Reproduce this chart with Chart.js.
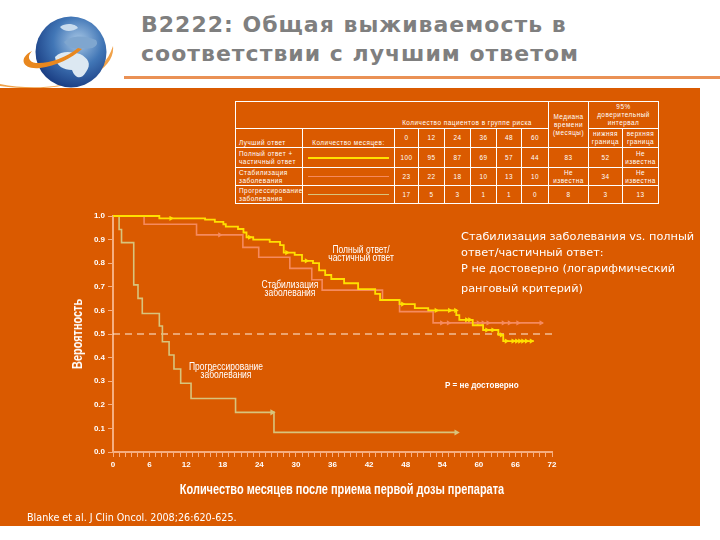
<!DOCTYPE html>
<html lang="ru">
<head>
<meta charset="utf-8">
<title>B2222</title>
<script src="https://cdn.jsdelivr.net/npm/chart.js@4"></script>
<style>
  html, body { margin: 0; background: #fff; }
  #page { position: relative; width: 720px; height: 540px; overflow: hidden; font-family: "DejaVu Sans", sans-serif; }
  #panel { position: absolute; left: 0; top: 88px; width: 700px; height: 438px; background: #da5a00; }
  #rule { position: absolute; left: 124px; top: 76px; width: 596px; height: 3px; background: #ea9155; }
  #globe { position: absolute; left: 0; top: 12px; }
  h1 { position: absolute; left: 141px; top: 10px; margin: 0; font-size: 22px; line-height: 29px; font-weight: bold; color: #7f7f7f; letter-spacing: 1px; white-space: nowrap; }
  canvas { position: absolute; left: 0; top: 0; }
  .t { position: absolute; color: #fff; white-space: nowrap; }
  .n { font-family: "Liberation Sans", sans-serif; line-height: 8px; text-align: center; transform: translate(-50%, 0) scaleX(.85); }
  #note { left: 461px; top: 229px; font-size: 11.3px; line-height: 16px; }
  #cite { left: 27px; top: 512px; font-size: 9.6px; }
  #xtitle { left: 342px; top: 480px; font: bold 15px "Liberation Sans", sans-serif; transform: translateX(-50%) scaleX(.73); }
  #ytitle { left: 77px; top: 334px; font: bold 14px "Liberation Sans", sans-serif; transform: translate(-50%, -50%) rotate(-90deg) scaleX(.78); }
  #pval { left: 445px; top: 380px; font: bold 9px "Liberation Sans", sans-serif; transform: scaleX(.9); transform-origin: left; }
  table { position: absolute; left: 235px; top: 101px; width: 423px; height: 102px; border-collapse: collapse; table-layout: fixed; color: #fff; font: 6.4px/8px "Liberation Sans", sans-serif; letter-spacing: .5px; }
  td { border: 1px solid #fff; text-align: center; padding: 0; vertical-align: middle; overflow: hidden; }
  td.l { text-align: left; padding-left: 3px; }
  td.b { vertical-align: bottom; }
  .s { display: block; margin: 0 5px; }
</style>
</head>
<body>
<div id="page">
  <svg id="globe" width="125" height="80" viewBox="0 0 125 80">
    <defs>
      <radialGradient id="g" cx="60%" cy="35%" r="70%">
        <stop offset="0" stop-color="#a9c8e6"/>
        <stop offset=".5" stop-color="#4176b6"/>
        <stop offset="1" stop-color="#17397f"/>
      </radialGradient>
    </defs>
    <path d="M0 72 C40 80 100 76 113 34 C116 60 70 84 0 74 Z" fill="#f0a24a"/>
    <circle cx="71" cy="40" r="35.5" fill="url(#g)"/>
    <path d="M55 45 C62 38 72 40 80 42 C88 46 92 52 86 60 C80 70 74 64 72 58 C64 58 56 54 55 45 Z" fill="#dce8f2"/>
    <path d="M64 30 C70 24 82 22 96 28 C100 34 92 38 84 36 C76 38 68 36 64 30 Z" fill="#7fa6cf"/>
    <path d="M60 15 C66 10 76 12 78 16 C72 20 64 20 60 15 Z" fill="#c8dbed"/>
    <path d="M32 39 C18 46 22 58 40 56 C56 54 72 46 82 37 L78 36 C66 46 48 52 36 51 C28 50 27 44 32 39 Z" fill="#e8871e"/>
  </svg>
  <h1>В2222: Общая выживаемость в<br>соответствии с лучшим ответом</h1>
  <div id="rule"></div>
  <div id="panel"></div>
  <table>
    <colgroup>
      <col style="width:67px"><col style="width:92px"><col style="width:24px"><col style="width:26px"><col style="width:26px"><col style="width:26px"><col style="width:25px"><col style="width:27px"><col style="width:40px"><col style="width:34px"><col style="width:36px">
    </colgroup>
    <tbody id="tb"></tbody>
  </table>
  <canvas id="chart" width="720" height="540"></canvas>
  <div class="t n" style="left:361px;top:246px;font-size:10px">Полный ответ/<br>частичный ответ</div>
  <div class="t n" style="left:290px;top:281px;font-size:10px">Стабилизация<br>заболевания</div>
  <div class="t n" style="left:226px;top:363px;font-size:10px">Прогрессирование<br>заболевания</div>
  <div class="t" id="pval">P = не достоверно</div>
  <div class="t" id="ytitle">Вероятность</div>
  <div class="t" id="xtitle">Количество месяцев после приема первой дозы препарата</div>
  <div class="t" id="note">Стабилизация заболевания vs. полный<br>ответ/частичный ответ:<br>Р не достоверно (логарифмический<br><span style="position:relative;top:4px">ранговый критерий)</span></div>
  <div class="t" id="cite">Blanke et al. J Clin Oncol. 2008;26:620-625.</div>
</div>
<script>
// risk table
const riskMonths = ['0', '12', '24', '36', '48', '60'];
const riskFull = ['100', '95', '87', '69', '57', '44'];
const riskStable = ['23', '22', '18', '10', '13', '10'];
const riskProg = ['17', '5', '3', '1', '1', '0'];

// survival curves: month of the drop, probability after it
const fullX = [0, 7.6, 15.1, 16.7, 18.1, 18.5, 20.5, 21.4, 21.9, 23, 25.7, 27.4, 28, 29.8, 31, 32.8, 33.8, 34.8, 35.8, 37.9, 40.2, 43, 43.8, 47, 49.5, 51.7, 56.3, 56.8, 59, 60.7, 63.2, 64, 69];
const fullY = [1, 0.99, 0.985, 0.975, 0.965, 0.955, 0.945, 0.93, 0.91, 0.9, 0.89, 0.877, 0.845, 0.835, 0.81, 0.8, 0.77, 0.75, 0.733, 0.715, 0.69, 0.67, 0.644, 0.627, 0.61, 0.6, 0.58, 0.56, 0.537, 0.517, 0.496, 0.47, 0.47];
const stableX = [0, 5.1, 13.7, 21.3, 23.9, 29, 32.6, 34.3, 44.2, 47, 52.5, 70.5];
const stableY = [1, 0.965, 0.92, 0.867, 0.825, 0.778, 0.73, 0.686, 0.644, 0.595, 0.547, 0.547];
const progX = [0, 1, 1.4, 3.4, 4.1, 4.8, 7.6, 8.1, 9.2, 10, 11.1, 12.8, 20.1, 26.4, 56.3];
const progY = [1, 0.943, 0.887, 0.708, 0.651, 0.587, 0.534, 0.467, 0.411, 0.352, 0.291, 0.227, 0.168, 0.083, 0.083];

// censored patients
const fullCensX = [9.5, 22.4, 28.5, 31.7, 47.5, 53, 55.2, 56.2, 58, 58.5, 61.3, 62.3, 63.7, 64.5, 65.6, 66.2, 66.7, 67.2, 67.8, 68.6];
const fullCensY = [0.99, 0.91, 0.845, 0.81, 0.627, 0.6, 0.6, 0.6, 0.56, 0.56, 0.517, 0.517, 0.496, 0.47, 0.47, 0.47, 0.47, 0.47, 0.47, 0.47];
const stableCensX = [17.5, 53.9, 55, 59.9, 60.7, 61.5, 64, 65, 66.4, 70.2];
const stableCensY = [0.92, 0.547, 0.547, 0.547, 0.547, 0.547, 0.547, 0.547, 0.547, 0.547];
const progCensX = [26.1, 56.3];
const progCensY = [0.168, 0.083];

const medianX = [0, 72];
const medianY = [0.5, 0.5];

const YELLOW = '#ffe000', SALMON = '#f58a5e', GREEN = '#d8c47c', AXIS = '#f6ae80', CREAM = '#fdeedd';

function lineSample(color, h) {
  return `<span class="s" style="height:${h}px;background:${color}"></span>`;
}
function riskCells(arr) {
  return arr.map(v => `<td>${v}</td>`).join('');
}
document.getElementById('tb').innerHTML = `
  <tr style="height:27px"><td colspan="8" class="b" style="padding-left:150px;padding-bottom:1px">Количество пациентов в группе риска</td>
    <td rowspan="2">Медиана<br>времени<br>(месяцы)</td>
    <td colspan="2">95%<br>доверительный<br>интервал</td></tr>
  <tr style="height:19px"><td class="l b">Лучший ответ</td><td class="b">Количество месяцев:</td>${riskCells(riskMonths)}<td>нижняя граница</td><td>верхняя граница</td></tr>
  <tr style="height:20px"><td class="l">Полный ответ +<br>частичный ответ</td><td>${lineSample(YELLOW, 2)}</td>${riskCells(riskFull)}<td>83</td><td>52</td><td>Не<br>известна</td></tr>
  <tr style="height:18px"><td class="l">Стабилизация<br>заболевания</td><td>${lineSample(SALMON, 1)}</td>${riskCells(riskStable)}<td>Не<br>известна</td><td>34</td><td>Не<br>известна</td></tr>
  <tr style="height:18px"><td class="l">Прогрессирование<br>заболевания</td><td>${lineSample(GREEN, 1)}</td>${riskCells(riskProg)}<td>8</td><td>3</td><td>13</td></tr>`;

function pts(xs, ys) {
  return xs.map((x, i) => ({ x, y: ys[i] }));
}
function curve(xs, ys, color, w) {
  return { data: pts(xs, ys), showLine: true, clip: false, borderColor: color, borderWidth: w, stepped: 'before', pointRadius: 0, fill: false };
}
function marks(xs, ys, color, r) {
  return { data: pts(xs, ys), showLine: false, pointStyle: 'triangle', rotation: 90, pointRadius: r, backgroundColor: color, borderColor: color, borderWidth: 0 };
}

new Chart(document.getElementById('chart'), {
  type: 'scatter',
  data: {
    // chart.js paints the first dataset on top
    datasets: [
      marks(fullCensX, fullCensY, YELLOW, 3),
      curve(fullX, fullY, YELLOW, 1.8),
      marks(stableCensX, stableCensY, SALMON, 3),
      curve(stableX, stableY, SALMON, 1.6),
      marks(progCensX, progCensY, GREEN, 3.5),
      curve(progX, progY, GREEN, 1.6),
      { data: pts(medianX, medianY), showLine: true, borderColor: CREAM, borderWidth: 1.2, borderDash: [7, 5], pointRadius: 0 }
    ]
  },
  options: {
    responsive: false,
    animation: false,
    layout: { padding: { top: 216, right: 168 } },
    plugins: { legend: { display: false }, tooltip: { enabled: false } },
    scales: {
      x: {
        type: 'linear', min: 0, max: 72,
        afterFit: s => { s.height = 88; },
        grid: { drawOnChartArea: false, color: AXIS, tickLength: 5, tickWidth: 1 },
        border: { color: AXIS, width: 2 },
        ticks: {
          stepSize: 1, autoSkip: false, maxRotation: 0, padding: 3, maxTicksLimit: 100,
          color: '#fff', font: { family: '"Liberation Sans", sans-serif', size: 8, weight: 'bold' },
          callback: v => (v % 6 === 0 ? String(v) : '')
        }
      },
      y: {
        min: 0, max: 1,
        afterFit: s => { s.width = 113; },
        grid: { drawOnChartArea: false, color: AXIS, tickLength: 5, tickWidth: 1 },
        border: { color: AXIS, width: 2 },
        ticks: {
          stepSize: 0.1, padding: 3,
          color: '#fff', font: { family: '"Liberation Sans", sans-serif', size: 8, weight: 'bold' },
          callback: v => v.toFixed(1)
        }
      }
    }
  }
});
</script>
</body>
</html>
